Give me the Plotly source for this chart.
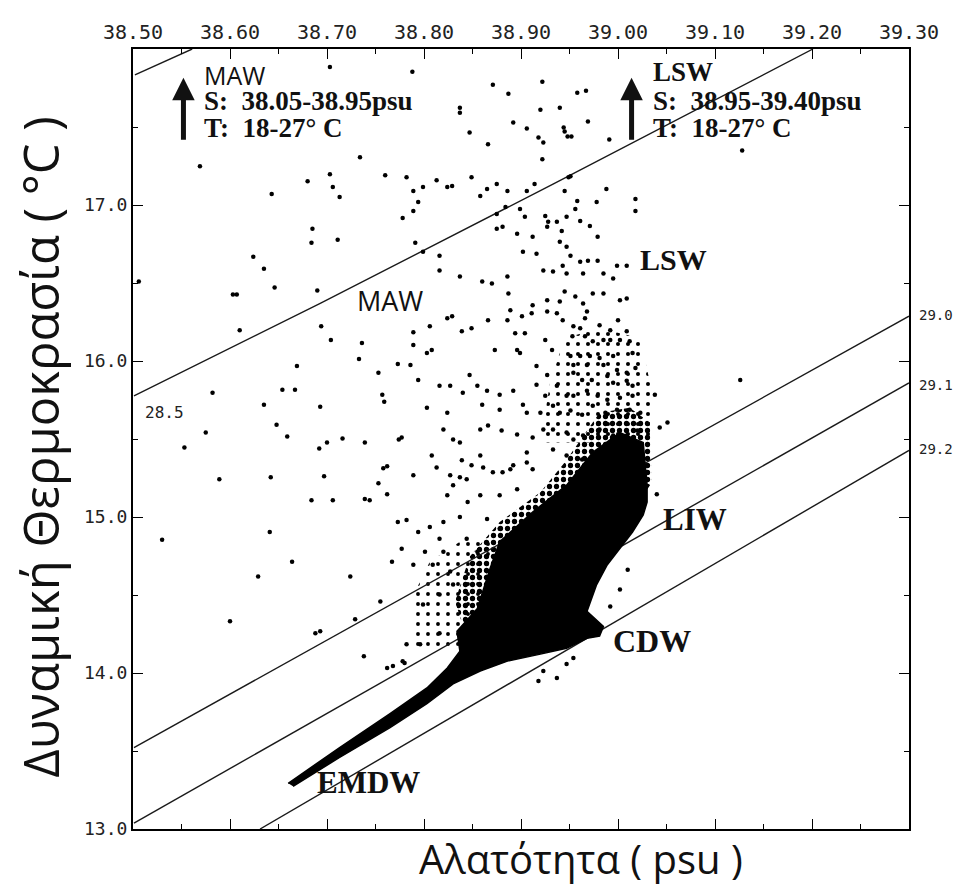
import plotly.graph_objects as go

# ---------------- data (salinity psu, potential temperature degC) ----------------
x_ticks = [38.50, 38.60, 38.70, 38.80, 38.90, 39.00, 39.10, 39.20, 39.30]
y_ticks = [13.0, 14.0, 15.0, 16.0, 17.0]

# isopycnals (sigma-theta)
iso_280 = [(38.502, 17.834), (38.561, 18.0)]
iso_285 = [(38.501, 15.777), (38.693, 16.369), (38.933, 17.134), (39.201, 18.0)]
iso_290 = [(38.501, 13.522), (39.300, 16.287)]
iso_291 = [(38.501, 13.038), (39.300, 15.860)]
iso_292 = [(38.631, 13.000), (39.300, 15.427)]

# dense core of the T-S cloud (EMDW tail -> CDW -> LIW hook)
core = [(38.660, 13.293), (38.713, 13.522), (38.765, 13.739), (38.803, 13.904), (38.824, 14.032),
        (38.837, 14.140), (38.834, 14.268), (38.855, 14.414), (38.868, 14.669), (38.878, 14.841),
        (38.912, 15.032), (38.947, 15.204), (38.974, 15.414), (39.002, 15.541), (39.026, 15.478),
        (39.030, 15.204), (39.030, 15.096), (39.026, 15.013), (39.015, 14.904), (39.002, 14.796),
        (38.989, 14.694), (38.978, 14.567), (38.968, 14.395), (38.985, 14.299), (38.981, 14.236),
        (38.968, 14.223), (38.947, 14.159), (38.920, 14.121), (38.886, 14.076), (38.858, 14.013),
        (38.830, 13.930), (38.803, 13.803), (38.765, 13.650), (38.713, 13.459), (38.665, 13.274)]

# speckled (dense-dot) zones
speckle_a = [(38.920, 15.478), (38.930, 15.860), (38.945, 16.146), (38.981, 16.210), (39.023, 16.146),
             (39.033, 15.860), (39.033, 15.478)]
speckle_b = [(38.832, 14.459), (38.847, 14.745), (38.878, 14.968), (38.920, 15.159), (38.945, 15.350),
             (38.966, 15.541), (38.981, 15.669), (39.012, 15.701), (39.033, 15.605), (39.035, 15.223),
             (38.981, 14.713), (38.920, 14.331), (38.847, 14.172)]
speckle_c = [(38.791, 14.140), (38.786, 14.459), (38.806, 14.713), (38.837, 14.841), (38.873, 14.873),
             (38.858, 14.459), (38.837, 14.140)]

# individual observations
dots_upper = [(38.703, 17.885), (38.788, 17.854), (38.871, 17.771), (38.922, 17.790), (38.958, 17.720),
              (38.887, 17.713), (38.837, 17.624), (38.837, 17.592), (38.920, 17.611), (38.940, 17.624),
              (38.892, 17.529), (38.906, 17.490), (38.847, 17.465), (38.918, 17.433), (38.923, 17.401),
              (38.945, 17.471), (38.948, 17.439), (38.866, 17.389), (38.734, 17.306), (38.922, 17.293),
              (38.569, 17.248), (38.703, 17.197), (38.680, 17.153), (38.760, 17.191), (38.782, 17.178),
              (38.813, 17.159), (38.849, 17.178), (38.799, 17.115), (38.789, 17.089), (38.824, 17.115),
              (38.829, 17.121), (38.865, 17.102), (38.875, 17.134), (38.886, 17.089), (38.914, 17.134),
              (38.951, 17.185), (38.945, 17.089), (38.706, 17.115), (38.643, 17.070), (38.713, 17.051),
              (38.858, 17.057), (38.967, 17.732), (38.969, 17.535), (38.944, 17.497), (38.952, 17.439),
              (38.991, 17.420), (39.128, 17.350), (38.949, 17.178), (38.988, 17.102), (39.018, 17.038),
              (38.906, 17.089), (38.794, 17.019), (38.958, 17.025), (38.978, 17.019)]

dots_midupper = [(38.789, 16.962), (38.778, 16.917), (38.685, 16.847), (38.684, 16.758), (38.711, 16.777),
                 (38.791, 16.758), (38.624, 16.669), (38.635, 16.592), (38.646, 16.471), (38.603, 16.427),
                 (38.607, 16.427), (38.690, 16.452), (38.506, 16.510), (38.610, 16.197), (38.694, 16.223),
                 (38.704, 16.134), (38.789, 16.185), (39.018, 16.962), (38.956, 16.975), (38.875, 16.943),
                 (38.884, 16.987), (38.899, 16.975), (38.904, 16.924), (38.925, 16.930), (38.928, 16.892),
                 (38.947, 16.924), (38.937, 16.892), (38.961, 16.898), (38.971, 16.866), (38.881, 16.860),
                 (38.875, 16.847), (38.896, 16.815), (38.912, 16.796), (38.927, 16.860), (38.942, 16.834),
                 (38.979, 16.796), (38.940, 16.764), (38.799, 16.701), (38.816, 16.675), (38.816, 16.580),
                 (38.902, 16.701), (38.916, 16.688), (38.947, 16.732), (38.951, 16.675), (38.961, 16.637),
                 (38.969, 16.643), (38.979, 16.643), (38.943, 16.611), (38.923, 16.580), (38.933, 16.573),
                 (38.964, 16.561), (38.985, 16.561), (38.995, 16.529), (38.999, 16.611), (39.009, 16.611),
                 (38.837, 16.541), (38.860, 16.510), (38.870, 16.497), (38.886, 16.541), (38.887, 16.433),
                 (38.947, 16.561), (38.945, 16.446), (38.956, 16.414), (38.974, 16.433), (38.985, 16.433),
                 (39.002, 16.389), (39.009, 16.401), (38.927, 16.389), (38.940, 16.382), (38.964, 16.369),
                 (38.912, 16.357), (38.889, 16.325), (38.901, 16.287), (38.911, 16.306), (38.927, 16.318),
                 (38.937, 16.306), (38.943, 16.261), (38.968, 16.318), (38.966, 16.274), (38.954, 16.223),
                 (38.961, 16.210), (38.981, 16.229), (38.992, 16.197), (39.000, 16.261), (39.009, 16.191),
                 (38.824, 16.274), (38.829, 16.287), (38.839, 16.191), (38.849, 16.210), (38.866, 16.261),
                 (38.886, 16.261), (38.894, 16.178), (38.904, 16.178), (38.806, 16.223)]

dots_mid = [(38.925, 16.134), (38.953, 16.159), (38.966, 16.159), (38.974, 16.127), (38.985, 16.134),
            (38.992, 16.134), (39.002, 16.134), (39.012, 16.127), (38.789, 16.102), (38.803, 16.051),
            (38.808, 16.070), (38.786, 15.975), (38.873, 16.070), (38.896, 16.070), (38.899, 16.051),
            (38.932, 16.070), (38.951, 16.032), (38.961, 16.032), (38.971, 16.032), (38.981, 16.019),
            (38.995, 16.032), (39.015, 16.051), (38.954, 15.975), (38.968, 15.975), (38.985, 15.975),
            (38.999, 15.943), (39.009, 15.924), (39.018, 15.955), (38.916, 15.968), (38.927, 15.911),
            (38.954, 15.924), (38.963, 15.879), (38.973, 15.879), (38.989, 15.904), (38.995, 15.860),
            (39.009, 15.873), (39.015, 15.841), (38.847, 15.911), (38.794, 15.879), (38.816, 15.841),
            (38.827, 15.841), (38.840, 15.796), (38.855, 15.841), (38.865, 15.809), (38.878, 15.783),
            (38.892, 15.809), (38.916, 15.847), (38.925, 15.777), (38.937, 15.841), (38.947, 15.777),
            (38.954, 15.777), (38.968, 15.809), (38.979, 15.777), (38.989, 15.752), (39.002, 15.764),
            (39.015, 15.777), (39.038, 15.783), (38.803, 15.701), (38.824, 15.669), (38.860, 15.720),
            (38.878, 15.688), (38.902, 15.720), (38.906, 15.669), (38.920, 15.669), (38.933, 15.713),
            (38.940, 15.669), (38.951, 15.682), (38.963, 15.656), (38.974, 15.713), (38.987, 15.669),
            (38.999, 15.688), (39.012, 15.688), (39.023, 15.669), (39.051, 15.605), (39.043, 15.573),
            (38.820, 15.561), (38.830, 15.497), (38.837, 15.478), (38.858, 15.561), (38.866, 15.586),
            (38.880, 15.554), (38.896, 15.529), (38.912, 15.510), (38.923, 15.561), (38.933, 15.561),
            (38.947, 15.541), (38.954, 15.497), (38.964, 15.522), (38.981, 15.561), (38.995, 15.522),
            (39.009, 15.522), (39.020, 15.554), (38.777, 15.510), (38.808, 15.395), (38.813, 15.318),
            (38.839, 15.363), (38.861, 15.318), (38.871, 15.287), (38.889, 15.306), (38.906, 15.350),
            (38.906, 15.414), (38.912, 15.306), (38.933, 15.433), (38.947, 15.395), (38.963, 15.369),
            (38.789, 15.268), (38.827, 15.268), (38.844, 15.242), (38.736, 16.115), (38.733, 16.013),
            (38.773, 15.981), (38.669, 15.968), (38.753, 15.924), (38.582, 15.796), (38.654, 15.815),
            (38.667, 15.815), (38.635, 15.720), (38.693, 15.707), (38.757, 15.783), (38.759, 15.739),
            (38.648, 15.592), (38.575, 15.541), (38.659, 15.516), (38.553, 15.446), (38.692, 15.439),
            (38.700, 15.478), (38.716, 15.503), (38.739, 15.478), (38.774, 15.497), (38.589, 15.242),
            (38.642, 15.255), (38.697, 15.261), (38.758, 15.312), (38.762, 15.325), (38.753, 15.217),
            (38.762, 15.146), (38.684, 15.108), (38.706, 15.108), (38.739, 15.115), (38.744, 15.108)]

dots_lower = [(38.830, 15.204), (38.837, 15.255), (38.849, 15.331), (38.858, 15.395), (38.881, 15.287),
              (38.892, 15.331), (38.896, 15.178), (38.878, 15.140), (38.858, 15.140), (38.845, 15.096),
              (38.824, 15.140), (38.837, 15.000), (38.820, 14.968), (38.806, 14.936), (38.782, 14.981),
              (38.777, 14.796), (38.794, 14.904), (38.801, 14.777), (38.816, 14.860), (38.820, 14.777),
              (38.789, 14.694), (38.809, 14.694), (38.827, 14.650), (38.816, 14.503), (38.799, 14.439),
              (38.830, 14.567), (38.844, 14.860), (38.855, 14.777), (38.865, 14.987), (38.878, 14.924),
              (38.782, 14.185), (38.796, 14.185), (38.816, 14.255), (38.780, 14.064), (38.923, 14.013),
              (38.918, 13.949), (38.937, 13.968), (38.947, 14.057), (38.954, 14.096), (38.992, 14.427),
              (39.002, 14.535), (39.010, 14.662), (39.040, 15.146), (38.762, 14.032), (38.768, 14.045),
              (38.778, 14.076), (39.126, 15.879), (38.530, 14.854), (38.600, 14.331), (38.629, 14.618),
              (38.664, 14.713), (38.688, 14.255), (38.693, 14.268), (38.729, 14.344), (38.738, 14.108),
              (38.755, 14.459), (38.767, 14.713), (38.773, 14.968), (38.724, 14.618), (38.641, 14.904)]


def xs(pts):
    return [p[0] for p in pts]


def ys(pts):
    return [p[1] for p in pts]


fig = go.Figure()

# speckled zones
for poly, size, sol in [(speckle_a, 10, 0.13), (speckle_c, 10, 0.12), (speckle_b, 7, 0.45)]:
    fig.add_trace(go.Scatter(x=xs(poly), y=ys(poly), mode='lines', fill='toself',
                             fillcolor='rgba(0,0,0,0)', line=dict(width=0),
                             fillpattern=dict(shape='.', size=size, solidity=sol, fgopacity=1,
                                              fgcolor='black', bgcolor='rgba(0,0,0,0)'),
                             hoverinfo='skip', showlegend=False))

# isopycnals
for iso in [iso_280, iso_285, iso_290, iso_291, iso_292]:
    fig.add_trace(go.Scatter(x=xs(iso), y=ys(iso), mode='lines',
                             line=dict(color='#1a1a1a', width=1.4), showlegend=False, hoverinfo='skip'))

# scattered observations
all_dots = dots_upper + dots_midupper + dots_mid + dots_lower
fig.add_trace(go.Scatter(x=xs(all_dots), y=ys(all_dots), mode='markers',
                         marker=dict(color='black', size=4.5, line=dict(width=0)),
                         showlegend=False))

# dense core
fig.add_trace(go.Scatter(x=xs(core), y=ys(core), mode='lines', fill='toself',
                         fillcolor='black', line=dict(color='black', width=1.5),
                         showlegend=False, hoverinfo='skip'))

serif_b = 'Liberation Serif'

# the page adds an 8px body margin, so the figure is sized to fit the window
fig.update_layout(
    width=950, height=877,
    margin=dict(l=125, r=49, t=36, b=56),
    paper_bgcolor='white', plot_bgcolor='white',
    xaxis=dict(range=[38.5, 39.3], side='top', tickmode='array', tickvals=x_ticks,
               ticktext=['%.2f' % v for v in x_ticks], ticks='inside', ticklen=10, tickwidth=1.3,
               tickcolor='black', showline=True, linecolor='black', linewidth=2, mirror='ticks',
               showgrid=False, zeroline=False,
               tickfont=dict(family='DejaVu Sans Mono', size=20, color='#222'),
               minor=dict(tickmode='array', tickvals=[round(38.55 + 0.1 * i, 2) for i in range(8)],
                          ticks='inside', ticklen=5, tickcolor='black', showgrid=False)),
    yaxis=dict(range=[13.0, 18.0], tickmode='array', tickvals=y_ticks,
               ticktext=['%.1f' % v for v in y_ticks], ticks='inside', ticklen=10, tickwidth=1.3,
               tickcolor='black', showline=True, linecolor='black', linewidth=2, mirror='ticks',
               showgrid=False, zeroline=False,
               tickfont=dict(family='DejaVu Sans Mono', size=18, color='#222'),
               minor=dict(tickmode='array', tickvals=[13.5, 14.5, 15.5, 16.5, 17.5],
                          ticks='inside', ticklen=5, tickcolor='black', showgrid=False)),
)

ann = []
# axis titles
ann.append(dict(text='Αλατότητα ( psu )', xref='paper', yref='paper', x=0.577, y=-0.038,
                xanchor='center', yanchor='middle', showarrow=False,
                font=dict(family='Open Sans', size=40, color='#111')))
ann.append(dict(text='Δυναμική Θερμοκρασία ( °C )', xref='paper', yref='paper', x=-0.12, y=0.49,
                xanchor='center', yanchor='middle', showarrow=False, textangle=-90,
                font=dict(family='Open Sans', size=49, color='#111')))

# top boxes
ann.append(dict(text='MAW', x=38.571, y=17.835, xanchor='left', yanchor='middle', showarrow=False,
                font=dict(family='Open Sans', size=25, color='#111')))
ann.append(dict(text='<b>S:  38.05-38.95psu</b>', x=38.571, y=17.665, xanchor='left', yanchor='middle',
                showarrow=False, font=dict(family=serif_b, size=27, color='#111')))
ann.append(dict(text='<b>T:  18-27° C</b>', x=38.571, y=17.495, xanchor='left', yanchor='middle',
                showarrow=False, font=dict(family=serif_b, size=27, color='#111')))
ann.append(dict(text='<b>LSW</b>', x=39.034, y=17.850, xanchor='left', yanchor='middle', showarrow=False,
                font=dict(family=serif_b, size=27, color='#111')))
ann.append(dict(text='<b>S:  38.95-39.40psu</b>', x=39.034, y=17.665, xanchor='left', yanchor='middle',
                showarrow=False, font=dict(family=serif_b, size=27, color='#111')))
ann.append(dict(text='<b>T:  18-27° C</b>', x=39.034, y=17.495, xanchor='left', yanchor='middle',
                showarrow=False, font=dict(family=serif_b, size=27, color='#111')))
for sx in [38.552, 39.014]:
    ann.append(dict(text='', x=sx, y=17.815, ax=sx, ay=17.408, xref='x', yref='y', axref='x', ayref='y',
                    showarrow=True, arrowhead=2, arrowsize=0.9, arrowwidth=5, arrowcolor='#111'))

# water mass labels
ann.append(dict(text='<b>LSW</b>', x=39.057, y=16.650, showarrow=False,
                font=dict(family=serif_b, size=30, color='#111')))
ann.append(dict(text='MAW', x=38.765, y=16.389, showarrow=False,
                font=dict(family='Open Sans', size=27, color='#111')))
ann.append(dict(text='<b>LIW</b>', x=39.079, y=14.987, showarrow=False,
                font=dict(family=serif_b, size=31, color='#111')))
ann.append(dict(text='<b>CDW</b>', x=39.035, y=14.204, showarrow=False,
                font=dict(family=serif_b, size=32, color='#111')))
ann.append(dict(text='<b>EMDW</b>', x=38.743, y=13.299, showarrow=False,
                font=dict(family=serif_b, size=31, color='#111')))

# isopycnal labels
ann.append(dict(text='28.5', x=38.532, y=15.669, showarrow=False,
                font=dict(family='DejaVu Sans Mono', size=16, color='#222')))
for lab, py in [('29.0', 0.659), ('29.1', 0.569), ('29.2', 0.487)]:
    ann.append(dict(text=lab, xref='paper', yref='paper', x=1.010, y=py, xanchor='left',
                    showarrow=False, font=dict(family='DejaVu Sans Mono', size=14, color='#222')))

fig.update_layout(annotations=ann)
fig.write_html('out.html')
